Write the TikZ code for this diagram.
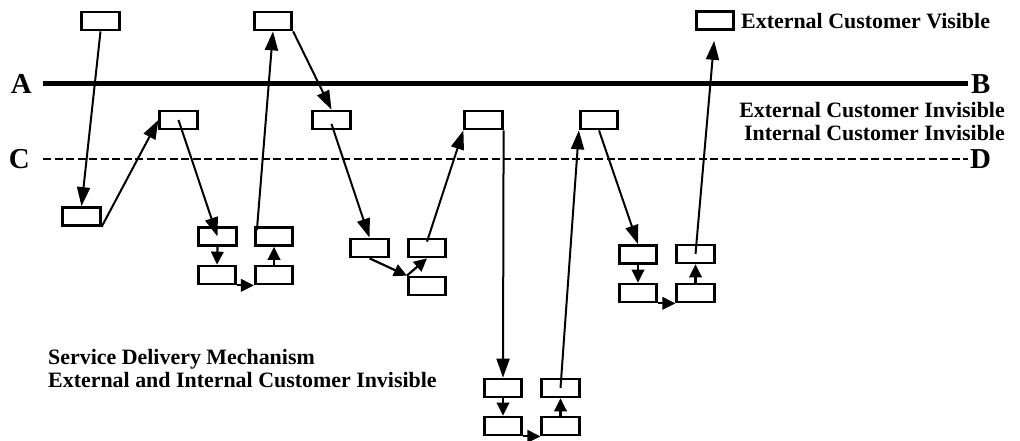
\documentclass[tikz,border=0pt]{standalone}
\usepackage{fontspec}
\setmainfont{Liberation Serif}
\usetikzlibrary{arrows.meta,calc}
\begin{document}
\begin{tikzpicture}[x=1bp,y=-1bp,
  box/.style={draw, line width=2.7bp, fill=white, minimum width=37.5bp, minimum height=18bp, inner sep=0},
  flow/.style={line width=2bp, -{Triangle[length=19bp,width=13bp]}},
  shortflow/.style={line width=2.2bp, -{Triangle[length=13bp,width=12.5bp]}},
  lbl/.style={font=\fontsize{29}{30}\selectfont\bfseries, inner sep=0},
  txt/.style={font=\fontsize{22}{23}\selectfont\bfseries, inner sep=0},
  boundary/.style={line width=5bp},
  interior/.style={line width=2.6bp, dash pattern=on 8bp off 3.5bp}]
\useasboundingbox (0,0) rectangle (1020,441);

% boundary labels and lines
\node[lbl, anchor=east] (A) at (32,84) {A};
\node[lbl, anchor=west] (B) at (971,84) {B};
\node[lbl, anchor=east] (C) at (30,159) {C};
\node[lbl, anchor=west] (D) at (970,159) {D};
\draw[boundary] ([xshift=11bp]A.east) -- ([xshift=-3bp]B.west);
\draw[interior] ([xshift=13bp]C.east) -- ([xshift=-2bp]D.west);

% texts
\node[txt, anchor=base west] (vis) at (741,29) {External Customer Visible};
\node[txt, anchor=north east, align=right] (inv) at (1005,102) {External Customer Invisible\\Internal Customer Invisible};
\node[txt, anchor=north west, align=left] (sdm) at (48,349) {Service Delivery Mechanism\\External and Internal Customer Invisible};

% boxes
\node[box] (b1) at (100.5,21) {};
\node[box] (b2) at (273,21) {};
\node[box] (b3) at (178.5,120) {};
\node[box] (b4) at (81.5,216.5) {};
\node[box] (b5) at (331.5,120) {};
\node[box] (b6) at (217.5,236.5) {};
\node[box] (b7) at (274,236.5) {};
\node[box] (b8) at (217,275) {};
\node[box] (b9) at (274,275) {};
\node[box] (b10) at (369.5,248) {};
\node[box] (b11) at (427,248) {};
\node[box] (b12) at (427,286) {};
\node[box] (b13) at (483.5,120) {};
\node[box] (b14) at (599,120) {};
\node[box] (b15) at (638,254.5) {};
\node[box] (b16) at (638,293) {};
\node[box] (b17) at (695.5,254) {};
\node[box] (b18) at (695.5,293) {};
\node[box] (b19) at (503,388) {};
\node[box] (b20) at (560.5,388) {};
\node[box] (b21) at (503,426) {};
\node[box] (b22) at (560.5,426) {};
\node[box] (b23) at (715,20.5) {};

% connectors
\draw[flow] (b1.south) -- (b4.north);
\draw[flow] (b4.south east) -- (b3.west);
\draw[flow] (b3.center) -- (b6.center);
\draw[shortflow] (b6.south) -- (b8.north);
\draw[shortflow] (b8.south east) -- (b9.south west);
\draw[shortflow] (b9.north) -- (b7.south);
\draw[flow] ($(b7.north west)+(3,4)$) -- (b2.south);
\draw[flow] (b2.south east) -- (b5.north);
\draw[flow] ($(b5.center)+(0,4)$) -- (b10.north);
\draw[shortflow] (b10.south) -- (b12.north west);
\draw[shortflow] (b12.north west) -- (b11.south);
\draw[flow] ($(b11.north)+(0,4)$) -- (b13.south west);
\draw[flow] (b13.south east) -- (b19.north);
\draw[shortflow] (b19.south) -- (b21.north);
\draw[shortflow] (b21.south east) -- (b22.south west);
\draw[shortflow] (b22.north) -- (b20.south);
\draw[flow] (b20.center) -- (b14.south west);
\draw[flow] (b14.south) -- (b15.north);
\draw[shortflow] (b15.south) -- (b16.north);
\draw[shortflow] (b16.south east) -- (b18.south west);
\draw[shortflow] (b18.north) -- (b17.south);
\draw[flow, shorten >=10bp] (b17.center) -- (b23.south);
\end{tikzpicture}
\end{document}
